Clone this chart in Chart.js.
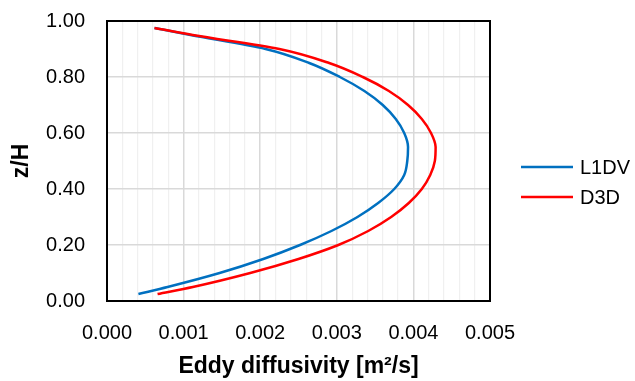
<!DOCTYPE html>
<html>
<head>
<meta charset="utf-8">
<script src="https://cdn.jsdelivr.net/npm/chart.js@4/dist/chart.umd.min.js"></script>
<style>
  html, body { margin: 0; padding: 0; background: #ffffff; }
  #wrap { width: 635px; height: 381px; position: relative; }
</style>
</head>
<body>
<div id="wrap"><canvas id="c" width="635" height="381"></canvas></div>
<script>
// Relative height z/H at which the profiles are given
const zH = [0.025, 0.05, 0.10, 0.15, 0.20, 0.25, 0.30, 0.35, 0.40, 0.45, 0.50,
            0.55, 0.60, 0.65, 0.70, 0.75, 0.80, 0.85, 0.90, 0.95, 0.975];

// Eddy diffusivity [m²/s] for each model
const l1dv = [0.00041, 0.00079, 0.00147, 0.00204, 0.00252, 0.00293, 0.00327, 0.00354, 0.00375, 0.00388, 0.00392,
              0.00393, 0.00388, 0.00377, 0.00360, 0.00336, 0.00304, 0.00264, 0.00207, 0.00109, 0.00062];
const d3d  = [0.00066, 0.00112, 0.00187, 0.00250, 0.00302, 0.00341, 0.00371, 0.00394, 0.00411, 0.00422, 0.00428,
              0.00429, 0.00423, 0.00411, 0.00393, 0.00368, 0.00334, 0.00290, 0.00225, 0.00112, 0.00062];

const seriesNames = ['L1DV', 'D3D'];
const seriesColors = ['#0070C0', '#FF0000'];

// Axis ticks
const xTickValues = [0.000, 0.001, 0.002, 0.003, 0.004, 0.005];
const yTickValues = [0.00, 0.20, 0.40, 0.60, 0.80, 1.00];
const xMinorPerMajor = 5;

const FONT = "'Liberation Sans', Arial, sans-serif";

function toPoints(xs) {
  return xs.map((x, i) => ({ x: x, y: zH[i] }));
}

// x ticks: majors plus four minor divisions between each pair
const xAllTicks = [];
for (let i = 0; i < xTickValues.length - 1; i++) {
  const a = xTickValues[i], b = xTickValues[i + 1];
  for (let k = 0; k < xMinorPerMajor; k++) xAllTicks.push(a + (b - a) * k / xMinorPerMajor);
}
xAllTicks.push(xTickValues[xTickValues.length - 1]);

// Plot frame and legend
const framePlugin = {
  id: 'frame',
  afterDraw(chart) {
    const { ctx, chartArea: a } = chart;
    ctx.save();
    ctx.strokeStyle = '#000000';
    ctx.lineWidth = 2;
    ctx.strokeRect(a.left, a.top, a.right - a.left, a.bottom - a.top);

    // legend
    const x0 = 521, x1 = 573, tx = 580;
    const ys = [167, 197];
    ctx.font = '20px ' + FONT;
    ctx.textBaseline = 'middle';
    ctx.textAlign = 'left';
    chart.data.datasets.forEach((ds, i) => {
      ctx.strokeStyle = ds.borderColor;
      ctx.lineWidth = 2.5;
      ctx.beginPath();
      ctx.moveTo(x0, ys[i]);
      ctx.lineTo(x1, ys[i]);
      ctx.stroke();
      ctx.fillStyle = '#000000';
      ctx.fillText(ds.label, tx, ys[i] + 1);
    });
    ctx.restore();
  }
};

const lineStyle = {
  showLine: true,
  borderWidth: 2.5,
  pointRadius: 0,
  cubicInterpolationMode: 'monotone',
  fill: false
};

new Chart(document.getElementById('c'), {
  type: 'line',
  data: {
    datasets: [
      Object.assign({
        label: seriesNames[0],
        data: toPoints(l1dv),
        borderColor: seriesColors[0],
        backgroundColor: seriesColors[0],
        order: 1
      }, lineStyle),
      Object.assign({
        label: seriesNames[1],
        data: toPoints(d3d),
        borderColor: seriesColors[1],
        backgroundColor: seriesColors[1],
        order: 0
      }, lineStyle)
    ]
  },
  options: {
    indexAxis: 'y',
    responsive: false,
    animation: false,
    layout: { padding: { top: 21, right: 145, left: 0, bottom: 0 } },
    plugins: { legend: { display: false }, tooltip: { enabled: false } },
    scales: {
      x: {
        type: 'linear',
        position: 'bottom',
        min: xTickValues[0],
        max: xTickValues[xTickValues.length - 1],
        afterBuildTicks(scale) {
          scale.ticks = xAllTicks.map(v => ({ value: v }));
        },
        afterFit(scale) { scale.height = 80; },
        ticks: {
          autoSkip: false,
          maxRotation: 0,
          padding: 20,
          color: '#000000',
          font: { family: FONT, size: 20 },
          callback(value, index) {
            return index % xMinorPerMajor === 0 ? xTickValues[index / xMinorPerMajor].toFixed(3) : '';
          }
        },
        grid: {
          drawTicks: false,
          color: (c) => (c.index % xMinorPerMajor === 0 ? '#d9d9d9' : '#f0f0f0'),
          lineWidth: (c) => (c.index % xMinorPerMajor === 0 ? 1.5 : 1.2)
        },
        border: { display: false },
        title: {
          display: true,
          text: 'Eddy diffusivity [m²/s]',
          color: '#000000',
          font: { family: FONT, size: 23, weight: 'bold' },
          padding: { top: 0, bottom: 1 }
        }
      },
      y: {
        type: 'linear',
        position: 'left',
        min: yTickValues[0],
        max: yTickValues[yTickValues.length - 1],
        afterBuildTicks(scale) {
          scale.ticks = yTickValues.map(v => ({ value: v }));
        },
        afterFit(scale) { scale.width = 107; },
        ticks: {
          padding: 0,
          color: '#000000',
          font: { family: FONT, size: 20 },
          callback(value, index) { return yTickValues[index].toFixed(2); }
        },
        grid: {
          drawTicks: true,
          tickLength: 22,
          tickColor: 'rgba(0,0,0,0)',
          color: '#d9d9d9',
          lineWidth: 1.5
        },
        border: { display: false },
        title: {
          display: true,
          text: 'z/H',
          color: '#000000',
          font: { family: FONT, size: 23, weight: 'bold' },
          padding: { top: 8, bottom: 0 }
        }
      }
    }
  },
  plugins: [framePlugin]
});
</script>
</body>
</html>
